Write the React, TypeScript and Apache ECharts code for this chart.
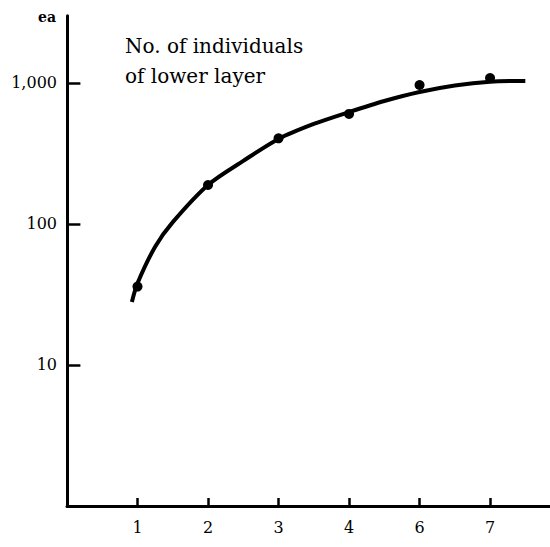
import React, { useEffect, useRef } from "react";
import * as echarts from "echarts";

// Tick labels of the horizontal axis (placed at positions 1..6)
const xLabels = ["1", "2", "3", "4", "6", "7"];
const xPositions = [1, 2, 3, 4, 5, 6];
// Observed numbers of individuals (lower layer)
const observed = [36, 189, 405, 603, 968, 1085];
// Fitted curve: axis positions and values
const curveX = [0.92, 1.0, 1.25, 1.5, 2.0, 2.5, 3.0, 3.5, 4.0, 4.5, 5.0, 5.5, 6.0, 6.5];
const curveY = [28, 38, 69, 103, 189, 280, 401, 512, 622, 745, 863, 960, 1021, 1033];
// Labelled ticks of the vertical (log) axis
const yTicks = [10, 100, 1000];

const FONT = "DejaVu Serif";
const Y_TICK_LEN = 0.19; // tick length in x-axis units

export default function App() {
  const ref = useRef<HTMLDivElement>(null);
  useEffect(() => {
    document.body.style.margin = "0";
    if (!ref.current) return;
    const chart = echarts.init(ref.current, null, { renderer: "svg" });
    chart.setOption({
      animation: false,
      grid: { left: 67, right: 0, top: 15.7, bottom: 41, containLabel: false },
      xAxis: {
        type: "value",
        min: 0,
        max: 6.85,
        splitLine: { show: false },
        axisLine: { show: true, lineStyle: { color: "#000", width: 3 } },
        axisTick: {
          show: true,
          inside: true,
          length: 8,
          customValues: xPositions,
          lineStyle: { color: "#000", width: 2.5 },
        },
        axisLabel: {
          customValues: xPositions,
          formatter: (v: number) => {
            const i = xPositions.indexOf(Math.round(v));
            return i >= 0 ? xLabels[i] : "";
          },
          color: "#000",
          fontFamily: FONT,
          fontSize: 16,
          margin: 13,
        },
      },
      yAxis: {
        type: "log",
        logBase: 10,
        min: 1,
        max: 3000,
        splitLine: { show: false },
        axisLine: { show: true, lineStyle: { color: "#000", width: 3 } },
        axisTick: { show: false },
        axisLabel: {
          customValues: yTicks,
          formatter: (v: number) => Math.round(v).toLocaleString("en-US"),
          color: "#000",
          fontFamily: FONT,
          fontSize: 16,
          margin: 10,
        },
      },
      graphic: [
        {
          type: "text",
          left: 38,
          top: 9.5,
          style: { text: "ea", fill: "#000", font: "bold 14px " + FONT },
        },
        {
          type: "text",
          left: 125,
          top: 31,
          style: {
            text: "No. of individuals\nof lower layer",
            fill: "#000",
            font: "20px " + FONT,
            lineHeight: 30,
          },
        },
      ],
      series: [
        {
          type: "line",
          smooth: 0.3,
          showSymbol: false,
          symbol: "none",
          lineStyle: { color: "#000", width: 4 },
          data: curveX.map((x, i) => [x, curveY[i]]),
          z: 2,
        },
        {
          type: "scatter",
          symbol: "circle",
          symbolSize: 10,
          itemStyle: { color: "#000", opacity: 1 },
          data: xPositions.map((x, i) => [x, observed[i]]),
          z: 3,
          markLine: {
            silent: true,
            symbol: ["none", "none"],
            label: { show: false },
            lineStyle: { color: "#000", width: 2.5, type: "solid", opacity: 1 },
            data: yTicks.map((v) => [{ coord: [0, v] }, { coord: [Y_TICK_LEN, v] }]),
          },
        },
      ],
    });
    return () => chart.dispose();
  }, []);
  return <div ref={ref} style={{ width: 550, height: 547 }} />;
}
